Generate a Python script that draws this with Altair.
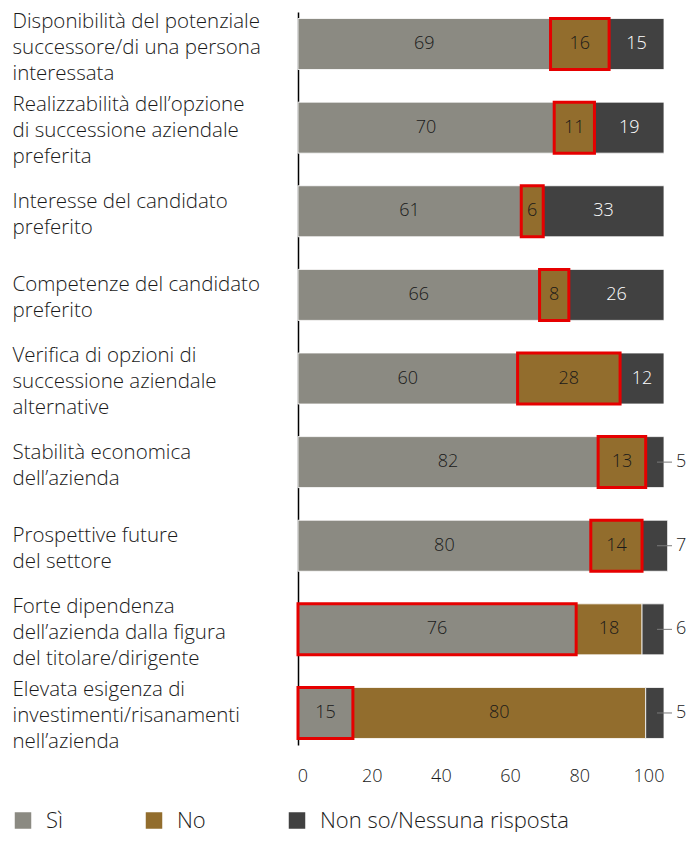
import altair as alt
import pandas as pd

label_lines = [
    ["Disponibilità del potenziale", "successore/di una persona", "interessata"],
    ["Realizzabilità dell’opzione", "di successione aziendale", "preferita"],
    ["Interesse del candidato", "preferito"],
    ["Competenze del candidato", "preferito"],
    ["Verifica di opzioni di", "successione aziendale", "alternative"],
    ["Stabilità economica", "dell’azienda"],
    ["Prospettive future", "del settore"],
    ["Forte dipendenza", "dell’azienda dalla figura", "del titolare/dirigente"],
    ["Elevata esigenza di", "investimenti/risanamenti", "nell’azienda"],
]
series = ["Sì", "No", "Non so/Nessuna risposta"]
colors = ["#8b8a82", "#926d2d", "#414141"]
si = [69, 70, 61, 66, 60, 82, 80, 76, 15]
no = [16, 11, 6, 8, 28, 13, 14, 18, 80]
nonso = [15, 19, 33, 26, 12, 5, 7, 6, 5]
highlighted = ["No", "No", "No", "No", "No", "No", "No", "Sì", "Sì"]
x_ticks = [0, 20, 40, 60, 80, 100]

cats = ["|".join(l) for l in label_lines]
rows = []
for i, c in enumerate(cats):
    start = 0
    for s, vals in zip(series, [si, no, nonso]):
        v = vals[i]
        rows.append(dict(cat=c, series=s, value=v, start=start, end=start + v,
                         mid=start + v / 2, hl=(s == highlighted[i])))
        start += v
df = pd.DataFrame(rows)

dark = series[2]
inside = f"datum.series != '{dark}' || datum.value >= 10"
outside = f"datum.series == '{dark}' && datum.value < 10"

base = alt.Chart(df).encode(
    y=alt.Y(
        "cat:N",
        sort=cats,
        scale=alt.Scale(paddingInner=0.39, paddingOuter=0.078),
        axis=alt.Axis(
            title=None,
            labelExpr="split(datum.label, '|')",
            labelAlign="left",
            labelBaseline="middle",
            labelPadding=286,
            labelFontSize=20.5,
            labelFontWeight=300,
            labelLineHeight=26,
            labelLimit=0,
            labelColor="#1a1a1a",
            labelOffset=alt.ExprRef(expr="3.5 - (length(split(datum.label, '|')) - 1) * 13"),
            ticks=False,
            tickSize=0,
            domain=True,
            domainColor="#000000",
            domainWidth=1.5,
        ),
    )
)

xscale = alt.Scale(domain=[0, 100], nice=False)

bars = base.mark_bar(stroke="white", strokeWidth=0.8).encode(
    x=alt.X(
        "start:Q",
        scale=xscale,
        axis=alt.Axis(
            title=None,
            values=x_ticks,
            grid=False,
            domain=False,
            ticks=False,
            tickSize=0,
            labelPadding=22,
            labelFontSize=18,
            labelFontWeight=300,
            labelColor="#1a1a1a",
            labelFlush=False,
            labelOffset=alt.ExprRef(expr="4.5 - datum.value * 0.2"),
        ),
    ),
    x2="end:Q",
    color=alt.Color(
        "series:N",
        scale=alt.Scale(domain=series, range=colors),
        legend=alt.Legend(
            title=None,
            orient="none",
            legendX=-286,
            legendY=797.5,
            direction="horizontal",
            symbolType="square",
            symbolSize=272,
            symbolStrokeWidth=0,
            labelFontSize=22,
            labelFontWeight=300,
            labelOffset=12,
            labelColor="#1a1a1a",
            columnPadding=80,
            padding=0,
            labelLimit=0,
        ),
    ),
)

boxes = base.transform_filter("datum.hl").mark_bar(
    fillOpacity=0, stroke="#e60000", strokeWidth=3
).encode(x="start:Q", x2="end:Q")

text_in = base.transform_filter(inside).mark_text(
    fontSize=18, fontWeight=300, baseline="middle", align="center"
).encode(
    x="mid:Q",
    text="value:Q",
    color=alt.condition(f"datum.series == '{dark}'", alt.value("white"), alt.value("#1a1a1a")),
)

leaders = base.transform_filter(outside).mark_rule(
    color="#7a7a7a", strokeWidth=1, xOffset=-7, x2Offset=8
).encode(x=alt.datum(100), x2=alt.datum(100))

text_out = base.transform_filter(outside).mark_text(
    fontSize=18, fontWeight=300, baseline="middle", align="left", dx=12, color="#1a1a1a"
).encode(x=alt.datum(100), text="value:Q")

chart = (
    alt.layer(bars, boxes, text_in, leaders, text_out)
    .properties(
        width=366,
        height=733,
        autosize=alt.AutoSizeParams(type="none"),
        padding={"left": 290, "top": 4, "right": 23, "bottom": 87},
    )
    .configure(font="Open Sans")
    .configure_view(stroke=None)
)

chart.save("out.html", embed_options={"renderer": "svg", "actions": False})
